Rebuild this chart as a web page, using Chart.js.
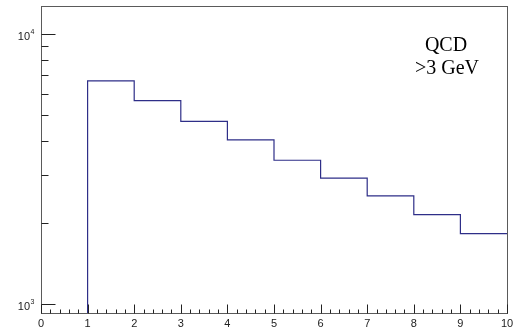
<!DOCTYPE html>
<html>
<head>
<meta charset="utf-8">
<script src="https://cdn.jsdelivr.net/npm/chart.js@4"></script>
<style>
  html, body { margin: 0; padding: 0; background: #fff; }
  #wrap { width: 519px; height: 333px; }
</style>
</head>
<body>
<div id="wrap"><canvas id="histo" width="519" height="333"></canvas></div>
<script>
// histogram bins (lower edges) and contents
var binEdges = [0, 1, 2, 3, 4, 5, 6, 7, 8, 9, 10];
var binCounts = [0, 6680, 5650, 4730, 4040, 3400, 2920, 2510, 2140, 1820];

// axis ranges and ticks
var xRange = [0, 10];
var yRange = [926, 12640];
var xMajorTicks = [0, 1, 2, 3, 4, 5, 6, 7, 8, 9, 10];
var xTickLabels = ['0', '1', '2', '3', '4', '5', '6', '7', '8', '9', '10'];
var yMajorTicks = [1000, 10000];
var yExponents = ['3', '4'];
var yMinorTicks = [2000, 3000, 4000, 5000, 6000, 7000, 8000, 9000];
var annotation = ['QCD', '>3 GeV'];

document.addEventListener('DOMContentLoaded', function () {
    // step outline: start on the frame bottom at the first filled bin,
    // then one point per bin at its upper edge (empty bins can't show on log y)
    var first = 0;
    while (first < binCounts.length && binCounts[first] <= 0) first++;
    var points = [{ x: binEdges[first], y: yRange[0] }];
    for (var i = first; i < binCounts.length; i++) {
        points.push({ x: binEdges[i + 1], y: binCounts[i] > 0 ? binCounts[i] : yRange[0] });
    }

    // ROOT-like frame with inward ticks
    var rootFrame = {
        id: 'rootFrame',
        afterDatasetsDraw: function (chart) {
            var ctx = chart.ctx, a = chart.chartArea;
            var xs = chart.scales.x, ys = chart.scales.y;
            var L = Math.round(a.left) + 0.5, R = Math.round(a.right) + 0.5;
            var T = Math.round(a.top) + 0.5, B = Math.round(a.bottom) + 0.5;
            ctx.save();
            ctx.strokeStyle = '#5a5a5a';
            ctx.lineWidth = 1;
            ctx.strokeRect(L, T, R - L, B - T);

            ctx.beginPath();
            // x ticks
            for (var v = xRange[0]; v <= xRange[1] + 1e-9; v += 0.2) {
                var px = Math.round(xs.getPixelForValue(v)) + 0.5;
                var major = Math.abs(v - Math.round(v)) < 1e-6;
                ctx.moveTo(px, B);
                ctx.lineTo(px, B - (major ? 9 : 4));
            }
            // y ticks
            yMajorTicks.forEach(function (t) {
                var py = Math.round(ys.getPixelForValue(t)) + 0.5;
                ctx.moveTo(L, py); ctx.lineTo(L + 14, py);
            });
            yMinorTicks.forEach(function (t) {
                var py = Math.round(ys.getPixelForValue(t)) + 0.5;
                ctx.moveTo(L, py); ctx.lineTo(L + 7, py);
            });
            ctx.strokeStyle = '#222';
            ctx.stroke();

            // x labels
            ctx.fillStyle = '#222';
            ctx.font = '11px "Liberation Sans", Arial, sans-serif';
            ctx.textAlign = 'center';
            ctx.textBaseline = 'alphabetic';
            xMajorTicks.forEach(function (t, k) {
                ctx.fillText(xTickLabels[k], xs.getPixelForValue(t), 327);
            });

            // y labels as 10^n
            yMajorTicks.forEach(function (t, k) {
                var py = ys.getPixelForValue(t);
                ctx.font = '11px "Liberation Sans", Arial, sans-serif';
                ctx.textAlign = 'right';
                ctx.fillText('10', 30, py + 6);
                ctx.font = '7px "Liberation Sans", Arial, sans-serif';
                ctx.textAlign = 'left';
                ctx.fillText(yExponents[k], 30.5, py + 0.5);
            });

            // annotation
            ctx.fillStyle = '#000';
            ctx.font = '20px "Liberation Serif", "Times New Roman", serif';
            ctx.textAlign = 'center';
            ctx.fillText(annotation[0], 446, 51);
            ctx.fillText(annotation[1], 447, 74);
            ctx.restore();
        }
    };

    new Chart(document.getElementById('histo').getContext('2d'), {
        type: 'line',
        data: {
            datasets: [{
                label: 'QCD',
                data: points,
                stepped: 'after',
                borderColor: '#2e2e88',
                borderWidth: 1.2,
                pointRadius: 0,
                fill: false
            }]
        },
        options: {
            responsive: false,
            animation: false,
            layout: { padding: { left: 41, right: 12, top: 6, bottom: 20 } },
            plugins: { legend: { display: false }, tooltip: { enabled: false } },
            scales: {
                x: { type: 'linear', min: xRange[0], max: xRange[1], display: false },
                y: { type: 'logarithmic', min: yRange[0], max: yRange[1], display: false }
            }
        },
        plugins: [rootFrame]
    });
});
</script>
</body>
</html>
